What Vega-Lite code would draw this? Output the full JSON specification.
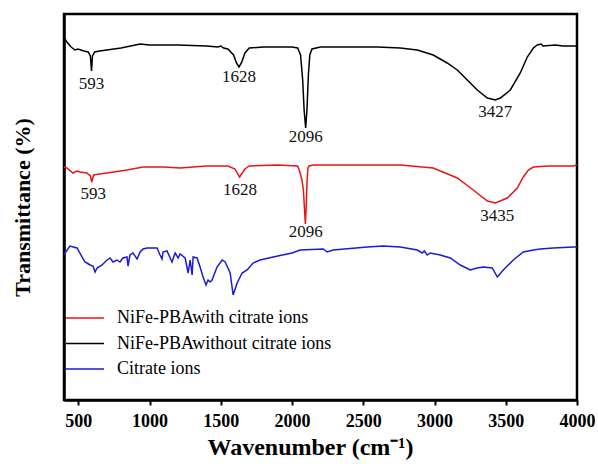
{
  "$schema": "https://vega.github.io/schema/vega-lite/v6.json",
  "autosize": {"type": "none"},
  "width": 513,
  "height": 386,
  "padding": {"left": 64, "top": 14, "right": 21, "bottom": 64},
  "background": "white",
  "config": {
    "view": {"stroke": "black", "strokeWidth": 2.5},
    "font": "Liberation Serif"
  },
  "datasets": {
    "spectra": [
      {"series": "NiFe-PBAwithout citrate ions", "wn": 400, "t": 363},
      {"series": "NiFe-PBAwithout citrate ions", "wn": 420, "t": 358},
      {"series": "NiFe-PBAwithout citrate ions", "wn": 450, "t": 353},
      {"series": "NiFe-PBAwithout citrate ions", "wn": 477, "t": 350},
      {"series": "NiFe-PBAwithout citrate ions", "wn": 498, "t": 351},
      {"series": "NiFe-PBAwithout citrate ions", "wn": 540, "t": 349},
      {"series": "NiFe-PBAwithout citrate ions", "wn": 570, "t": 348},
      {"series": "NiFe-PBAwithout citrate ions", "wn": 585, "t": 344},
      {"series": "NiFe-PBAwithout citrate ions", "wn": 593, "t": 329},
      {"series": "NiFe-PBAwithout citrate ions", "wn": 600, "t": 344},
      {"series": "NiFe-PBAwithout citrate ions", "wn": 615, "t": 348},
      {"series": "NiFe-PBAwithout citrate ions", "wn": 650, "t": 349},
      {"series": "NiFe-PBAwithout citrate ions", "wn": 700, "t": 350},
      {"series": "NiFe-PBAwithout citrate ions", "wn": 800, "t": 352},
      {"series": "NiFe-PBAwithout citrate ions", "wn": 934, "t": 356},
      {"series": "NiFe-PBAwithout citrate ions", "wn": 1000, "t": 355},
      {"series": "NiFe-PBAwithout citrate ions", "wn": 1200, "t": 355},
      {"series": "NiFe-PBAwithout citrate ions", "wn": 1400, "t": 354},
      {"series": "NiFe-PBAwithout citrate ions", "wn": 1480, "t": 353},
      {"series": "NiFe-PBAwithout citrate ions", "wn": 1500, "t": 354},
      {"series": "NiFe-PBAwithout citrate ions", "wn": 1520, "t": 352},
      {"series": "NiFe-PBAwithout citrate ions", "wn": 1550, "t": 351},
      {"series": "NiFe-PBAwithout citrate ions", "wn": 1590, "t": 345},
      {"series": "NiFe-PBAwithout citrate ions", "wn": 1610, "t": 337},
      {"series": "NiFe-PBAwithout citrate ions", "wn": 1628, "t": 333},
      {"series": "NiFe-PBAwithout citrate ions", "wn": 1645, "t": 337},
      {"series": "NiFe-PBAwithout citrate ions", "wn": 1670, "t": 347},
      {"series": "NiFe-PBAwithout citrate ions", "wn": 1700, "t": 352},
      {"series": "NiFe-PBAwithout citrate ions", "wn": 1800, "t": 353},
      {"series": "NiFe-PBAwithout citrate ions", "wn": 2000, "t": 353},
      {"series": "NiFe-PBAwithout citrate ions", "wn": 2040, "t": 352},
      {"series": "NiFe-PBAwithout citrate ions", "wn": 2060, "t": 345},
      {"series": "NiFe-PBAwithout citrate ions", "wn": 2075, "t": 320},
      {"series": "NiFe-PBAwithout citrate ions", "wn": 2085, "t": 290},
      {"series": "NiFe-PBAwithout citrate ions", "wn": 2096, "t": 272},
      {"series": "NiFe-PBAwithout citrate ions", "wn": 2105, "t": 290},
      {"series": "NiFe-PBAwithout citrate ions", "wn": 2115, "t": 325},
      {"series": "NiFe-PBAwithout citrate ions", "wn": 2125, "t": 345},
      {"series": "NiFe-PBAwithout citrate ions", "wn": 2140, "t": 351},
      {"series": "NiFe-PBAwithout citrate ions", "wn": 2200, "t": 353},
      {"series": "NiFe-PBAwithout citrate ions", "wn": 2600, "t": 353},
      {"series": "NiFe-PBAwithout citrate ions", "wn": 2760, "t": 352},
      {"series": "NiFe-PBAwithout citrate ions", "wn": 2879, "t": 350},
      {"series": "NiFe-PBAwithout citrate ions", "wn": 2991, "t": 345},
      {"series": "NiFe-PBAwithout citrate ions", "wn": 3089, "t": 337},
      {"series": "NiFe-PBAwithout citrate ions", "wn": 3160, "t": 330},
      {"series": "NiFe-PBAwithout citrate ions", "wn": 3230, "t": 320},
      {"series": "NiFe-PBAwithout citrate ions", "wn": 3300, "t": 310},
      {"series": "NiFe-PBAwithout citrate ions", "wn": 3371, "t": 302},
      {"series": "NiFe-PBAwithout citrate ions", "wn": 3427, "t": 300},
      {"series": "NiFe-PBAwithout citrate ions", "wn": 3462, "t": 302},
      {"series": "NiFe-PBAwithout citrate ions", "wn": 3532, "t": 310},
      {"series": "NiFe-PBAwithout citrate ions", "wn": 3602, "t": 327},
      {"series": "NiFe-PBAwithout citrate ions", "wn": 3651, "t": 343},
      {"series": "NiFe-PBAwithout citrate ions", "wn": 3694, "t": 352},
      {"series": "NiFe-PBAwithout citrate ions", "wn": 3721, "t": 355},
      {"series": "NiFe-PBAwithout citrate ions", "wn": 3750, "t": 356},
      {"series": "NiFe-PBAwithout citrate ions", "wn": 3760, "t": 354},
      {"series": "NiFe-PBAwithout citrate ions", "wn": 3850, "t": 355},
      {"series": "NiFe-PBAwithout citrate ions", "wn": 3900, "t": 354},
      {"series": "NiFe-PBAwithout citrate ions", "wn": 4000, "t": 354},

      {"series": "NiFe-PBAwith citrate ions", "wn": 400, "t": 233},
      {"series": "NiFe-PBAwith citrate ions", "wn": 420, "t": 232},
      {"series": "NiFe-PBAwith citrate ions", "wn": 463, "t": 227},
      {"series": "NiFe-PBAwith citrate ions", "wn": 490, "t": 229},
      {"series": "NiFe-PBAwith citrate ions", "wn": 512, "t": 228},
      {"series": "NiFe-PBAwith citrate ions", "wn": 560, "t": 227},
      {"series": "NiFe-PBAwith citrate ions", "wn": 585, "t": 224},
      {"series": "NiFe-PBAwith citrate ions", "wn": 595, "t": 218},
      {"series": "NiFe-PBAwith citrate ions", "wn": 608, "t": 225},
      {"series": "NiFe-PBAwith citrate ions", "wn": 650, "t": 226},
      {"series": "NiFe-PBAwith citrate ions", "wn": 750, "t": 228},
      {"series": "NiFe-PBAwith citrate ions", "wn": 842, "t": 230},
      {"series": "NiFe-PBAwith citrate ions", "wn": 955, "t": 233},
      {"series": "NiFe-PBAwith citrate ions", "wn": 1100, "t": 233},
      {"series": "NiFe-PBAwith citrate ions", "wn": 1215, "t": 232},
      {"series": "NiFe-PBAwith citrate ions", "wn": 1400, "t": 234},
      {"series": "NiFe-PBAwith citrate ions", "wn": 1550, "t": 234},
      {"series": "NiFe-PBAwith citrate ions", "wn": 1600, "t": 231},
      {"series": "NiFe-PBAwith citrate ions", "wn": 1632, "t": 223},
      {"series": "NiFe-PBAwith citrate ions", "wn": 1670, "t": 231},
      {"series": "NiFe-PBAwith citrate ions", "wn": 1700, "t": 234},
      {"series": "NiFe-PBAwith citrate ions", "wn": 1900, "t": 235},
      {"series": "NiFe-PBAwith citrate ions", "wn": 2040, "t": 234},
      {"series": "NiFe-PBAwith citrate ions", "wn": 2055, "t": 228},
      {"series": "NiFe-PBAwith citrate ions", "wn": 2070, "t": 220},
      {"series": "NiFe-PBAwith citrate ions", "wn": 2080, "t": 210},
      {"series": "NiFe-PBAwith citrate ions", "wn": 2088, "t": 190},
      {"series": "NiFe-PBAwith citrate ions", "wn": 2094, "t": 176},
      {"series": "NiFe-PBAwith citrate ions", "wn": 2100, "t": 195},
      {"series": "NiFe-PBAwith citrate ions", "wn": 2106, "t": 220},
      {"series": "NiFe-PBAwith citrate ions", "wn": 2112, "t": 232},
      {"series": "NiFe-PBAwith citrate ions", "wn": 2120, "t": 234},
      {"series": "NiFe-PBAwith citrate ions", "wn": 2150, "t": 235},
      {"series": "NiFe-PBAwith citrate ions", "wn": 2400, "t": 235},
      {"series": "NiFe-PBAwith citrate ions", "wn": 2760, "t": 235},
      {"series": "NiFe-PBAwith citrate ions", "wn": 2991, "t": 232},
      {"series": "NiFe-PBAwith citrate ions", "wn": 3160, "t": 222},
      {"series": "NiFe-PBAwith citrate ions", "wn": 3272, "t": 210},
      {"series": "NiFe-PBAwith citrate ions", "wn": 3371, "t": 199},
      {"series": "NiFe-PBAwith citrate ions", "wn": 3427, "t": 197},
      {"series": "NiFe-PBAwith citrate ions", "wn": 3511, "t": 202},
      {"series": "NiFe-PBAwith citrate ions", "wn": 3581, "t": 212},
      {"series": "NiFe-PBAwith citrate ions", "wn": 3623, "t": 223},
      {"series": "NiFe-PBAwith citrate ions", "wn": 3659, "t": 230},
      {"series": "NiFe-PBAwith citrate ions", "wn": 3694, "t": 233},
      {"series": "NiFe-PBAwith citrate ions", "wn": 3800, "t": 234},
      {"series": "NiFe-PBAwith citrate ions", "wn": 3975, "t": 234},
      {"series": "NiFe-PBAwith citrate ions", "wn": 4000, "t": 235},

      {"series": "Citrate ions", "wn": 400, "t": 145},
      {"series": "Citrate ions", "wn": 407, "t": 147},
      {"series": "Citrate ions", "wn": 442, "t": 154},
      {"series": "Citrate ions", "wn": 491, "t": 152},
      {"series": "Citrate ions", "wn": 547, "t": 138},
      {"series": "Citrate ions", "wn": 561, "t": 137},
      {"series": "Citrate ions", "wn": 583, "t": 135},
      {"series": "Citrate ions", "wn": 604, "t": 134},
      {"series": "Citrate ions", "wn": 618, "t": 128},
      {"series": "Citrate ions", "wn": 632, "t": 132},
      {"series": "Citrate ions", "wn": 667, "t": 135},
      {"series": "Citrate ions", "wn": 702, "t": 140},
      {"series": "Citrate ions", "wn": 723, "t": 142},
      {"series": "Citrate ions", "wn": 744, "t": 138},
      {"series": "Citrate ions", "wn": 772, "t": 140},
      {"series": "Citrate ions", "wn": 793, "t": 138},
      {"series": "Citrate ions", "wn": 814, "t": 142},
      {"series": "Citrate ions", "wn": 842, "t": 143},
      {"series": "Citrate ions", "wn": 849, "t": 134},
      {"series": "Citrate ions", "wn": 863, "t": 145},
      {"series": "Citrate ions", "wn": 884, "t": 147},
      {"series": "Citrate ions", "wn": 913, "t": 141},
      {"series": "Citrate ions", "wn": 934, "t": 148},
      {"series": "Citrate ions", "wn": 955, "t": 151},
      {"series": "Citrate ions", "wn": 983, "t": 152},
      {"series": "Citrate ions", "wn": 1053, "t": 152},
      {"series": "Citrate ions", "wn": 1074, "t": 145},
      {"series": "Citrate ions", "wn": 1088, "t": 141},
      {"series": "Citrate ions", "wn": 1095, "t": 148},
      {"series": "Citrate ions", "wn": 1123, "t": 149},
      {"series": "Citrate ions", "wn": 1158, "t": 138},
      {"series": "Citrate ions", "wn": 1180, "t": 147},
      {"series": "Citrate ions", "wn": 1201, "t": 142},
      {"series": "Citrate ions", "wn": 1215, "t": 146},
      {"series": "Citrate ions", "wn": 1250, "t": 142},
      {"series": "Citrate ions", "wn": 1271, "t": 127},
      {"series": "Citrate ions", "wn": 1285, "t": 140},
      {"series": "Citrate ions", "wn": 1299, "t": 125},
      {"series": "Citrate ions", "wn": 1306, "t": 143},
      {"series": "Citrate ions", "wn": 1334, "t": 142},
      {"series": "Citrate ions", "wn": 1355, "t": 133},
      {"series": "Citrate ions", "wn": 1376, "t": 123},
      {"series": "Citrate ions", "wn": 1397, "t": 115},
      {"series": "Citrate ions", "wn": 1411, "t": 120},
      {"series": "Citrate ions", "wn": 1425, "t": 118},
      {"series": "Citrate ions", "wn": 1439, "t": 120},
      {"series": "Citrate ions", "wn": 1474, "t": 133},
      {"series": "Citrate ions", "wn": 1510, "t": 140},
      {"series": "Citrate ions", "wn": 1531, "t": 138},
      {"series": "Citrate ions", "wn": 1566, "t": 127},
      {"series": "Citrate ions", "wn": 1587, "t": 105},
      {"series": "Citrate ions", "wn": 1615, "t": 117},
      {"series": "Citrate ions", "wn": 1650, "t": 127},
      {"series": "Citrate ions", "wn": 1685, "t": 130},
      {"series": "Citrate ions", "wn": 1727, "t": 137},
      {"series": "Citrate ions", "wn": 1776, "t": 140},
      {"series": "Citrate ions", "wn": 1900, "t": 144},
      {"series": "Citrate ions", "wn": 2000, "t": 147},
      {"series": "Citrate ions", "wn": 2057, "t": 150},
      {"series": "Citrate ions", "wn": 2219, "t": 151},
      {"series": "Citrate ions", "wn": 2247, "t": 148},
      {"series": "Citrate ions", "wn": 2289, "t": 150},
      {"series": "Citrate ions", "wn": 2528, "t": 153},
      {"series": "Citrate ions", "wn": 2640, "t": 154},
      {"series": "Citrate ions", "wn": 2760, "t": 153},
      {"series": "Citrate ions", "wn": 2879, "t": 150},
      {"series": "Citrate ions", "wn": 2914, "t": 147},
      {"series": "Citrate ions", "wn": 2928, "t": 149},
      {"series": "Citrate ions", "wn": 2949, "t": 145},
      {"series": "Citrate ions", "wn": 2970, "t": 147},
      {"series": "Citrate ions", "wn": 3040, "t": 145},
      {"series": "Citrate ions", "wn": 3111, "t": 142},
      {"series": "Citrate ions", "wn": 3181, "t": 135},
      {"series": "Citrate ions", "wn": 3251, "t": 130},
      {"series": "Citrate ions", "wn": 3300, "t": 132},
      {"series": "Citrate ions", "wn": 3342, "t": 133},
      {"series": "Citrate ions", "wn": 3405, "t": 132},
      {"series": "Citrate ions", "wn": 3441, "t": 123},
      {"series": "Citrate ions", "wn": 3483, "t": 130},
      {"series": "Citrate ions", "wn": 3553, "t": 140},
      {"series": "Citrate ions", "wn": 3623, "t": 148},
      {"series": "Citrate ions", "wn": 3694, "t": 150},
      {"series": "Citrate ions", "wn": 3743, "t": 151},
      {"series": "Citrate ions", "wn": 3834, "t": 152},
      {"series": "Citrate ions", "wn": 3975, "t": 153},
      {"series": "Citrate ions", "wn": 4000, "t": 153}
    ],
    "peaks": [
      {"label": "593", "wn": 593, "t": 316},
      {"label": "1628", "wn": 1628, "t": 323},
      {"label": "2096", "wn": 2096, "t": 263},
      {"label": "3427", "wn": 3427, "t": 288},
      {"label": "593", "wn": 605, "t": 206},
      {"label": "1628", "wn": 1635, "t": 210},
      {"label": "2096", "wn": 2096, "t": 168},
      {"label": "3435", "wn": 3440, "t": 184}
    ]
  },
  "layer": [
    {
      "data": {"name": "spectra"},
      "mark": {"type": "line", "strokeWidth": 1.5, "interpolate": "linear"},
      "encoding": {
        "x": {
          "field": "wn", "type": "quantitative",
          "scale": {"domain": [400, 4000], "nice": false, "zero": false},
          "axis": {
            "title": "Wavenumber (cm⁻¹)",
            "titleFont": "Liberation Serif", "titleFontSize": 24, "titleFontWeight": "bold", "titleColor": "black",
            "titlePadding": 5, "titleX": 246,
            "values": [500, 750, 1000, 1250, 1500, 1750, 2000, 2250, 2500, 2750, 3000, 3250, 3500, 3750, 4000],
            "labelExpr": "datum.value % 500 === 0 ? datum.label : ''",
            "format": "d",
            "labelFont": "Liberation Serif", "labelFontSize": 18, "labelFontWeight": "bold", "labelColor": "black",
            "labelPadding": 7, "labelOverlap": false, "labelFlush": false,
            "tickColor": "black", "tickWidth": 2,
            "tickSize": {"condition": {"test": "datum.value % 500 === 0", "value": 5}, "value": 3},
            "domainColor": "black", "domainWidth": 2.5,
            "grid": false
          }
        },
        "y": {
          "field": "t", "type": "quantitative",
          "scale": {"domain": [0, 386], "nice": false, "zero": false},
          "axis": {
            "title": "Transmittance (%)",
            "titleFont": "Liberation Serif", "titleFontSize": 22, "titleFontWeight": "bold", "titleColor": "black",
            "titlePadding": 30,
            "labels": false, "ticks": false, "grid": false,
            "domainColor": "black", "domainWidth": 2.5
          }
        },
        "color": {
          "field": "series", "type": "nominal",
          "scale": {
            "domain": ["NiFe-PBAwith citrate ions", "NiFe-PBAwithout citrate ions", "Citrate ions"],
            "range": ["#e81515", "#000000", "#1a1ad8"]
          },
          "legend": {
            "title": null,
            "orient": "none", "legendX": 1, "legendY": 292,
            "padding": 0,
            "symbolType": "stroke", "symbolSize": 1444, "symbolStrokeWidth": 1.5,
            "labelFont": "Liberation Serif", "labelFontSize": 18, "labelColor": "black",
            "labelOffset": 12, "rowPadding": 1.5, "clipHeight": 24, "labelLimit": 400
          }
        }
      }
    },
    {
      "data": {"name": "peaks"},
      "mark": {"type": "text", "font": "Liberation Serif", "fontSize": 17, "color": "#111", "align": "center", "baseline": "middle"},
      "encoding": {
        "x": {"field": "wn", "type": "quantitative"},
        "y": {"field": "t", "type": "quantitative"},
        "text": {"field": "label"}
      }
    }
  ]
}
